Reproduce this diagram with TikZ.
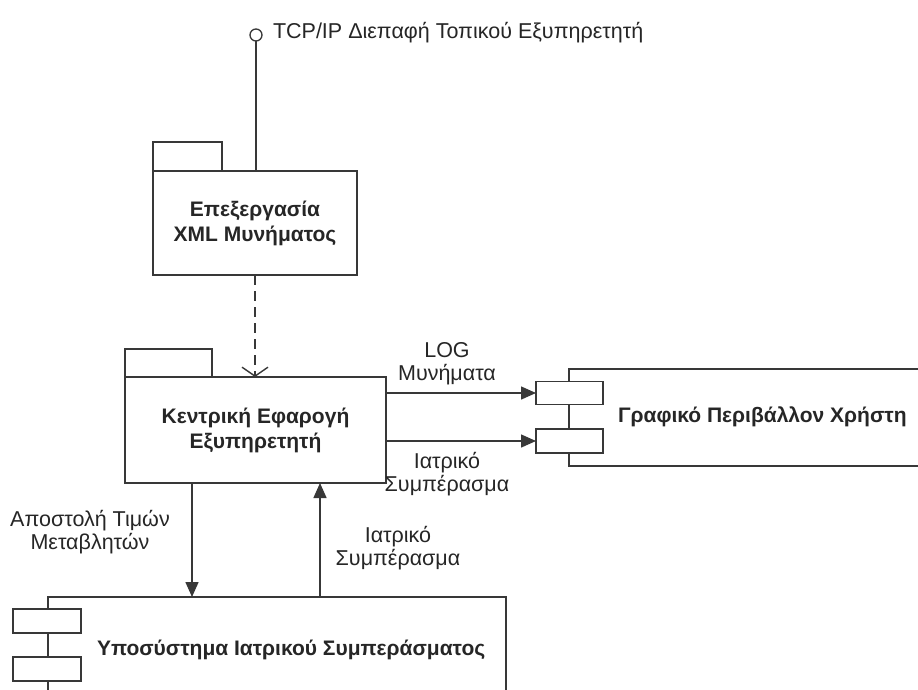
\documentclass[tikz,border=0pt]{standalone}
\usepackage{fontspec}
\setmainfont{Liberation Sans}
\usetikzlibrary{arrows.meta}
\begin{document}
\begin{tikzpicture}[x=1pt,y=-1pt,
  line width=1.5pt, draw=black!78,
  every node/.style={inner sep=0pt, outer sep=0pt},
  box/.style={draw, rectangle, anchor=north west},
  lbl/.style={font=\fontsize{21.5}{23}\selectfont, text=black!85, align=center},
  title/.style={font=\fontsize{21}{25}\selectfont\bfseries, text=black!85, align=center},
  flow/.style={-{Triangle[length=15pt,width=13pt]}},
  dep/.style={dashed, dash pattern=on 10pt off 6pt, -{Straight Barb[length=9pt,width=26pt,line width=1.4pt]}}]
\useasboundingbox (0,0) rectangle (918,689);
\clip (0,0) rectangle (918,689);
\fill[white] (0,0) rectangle (918,689);

% interface lollipop
\node[draw, circle, minimum size=12pt, line width=1.3pt] (iface) at (256,35) {};
\node[lbl, anchor=west] (ifacelbl) at (273,33) {TCP/IP Διεπαφή Τοπικού Εξυπηρετητή};

% XML message package
\node[box, minimum width=204pt, minimum height=104pt] (xml) at (153,171) {};
\node[box, minimum width=69pt, minimum height=29pt] (xmltab) at (153,142) {};
\node[title] (xmltxt) at (xml.center) {Επεξεργασία\\XML Μυνήματος};

% central server application package
\node[box, minimum width=261pt, minimum height=106pt] (core) at (125,377) {};
\node[box, minimum width=87pt, minimum height=28pt] (coretab) at (125,349) {};
\node[title] (coretxt) at (core.center) {Κεντρική Εφαρογή\\Εξυπηρετητή};

% GUI component
\node[box, minimum width=380pt, minimum height=97pt] (gui) at (569,369) {};
\node[draw, fill=white, minimum width=67pt, minimum height=23pt] (guiA) at (569.5,393) {};
\node[draw, fill=white, minimum width=67pt, minimum height=24pt] (guiB) at (569.5,441) {};
\node[title, anchor=west] (guitxt) at (618,417) {Γραφικό Περιβάλλον Χρήστη};

% medical inference subsystem component
\node[box, minimum width=458pt, minimum height=140pt] (sub) at (48,597) {};
\node[draw, fill=white, minimum width=68pt, minimum height=24pt] (subA) at (47,621) {};
\node[draw, fill=white, minimum width=68pt, minimum height=24pt] (subB) at (47,669) {};
\node[title, anchor=west] (subtxt) at (97,650) {Υποσύστημα Ιατρικού Συμπεράσματος};

% connectors
\draw (iface.south) -- (iface.south |- xml.north);
\draw[dep] (xml.south) -- (xml.south |- core.north);
\draw[flow] (core.east |- guiA.west) -- (guiA.west);
\draw[flow] (core.east |- guiB.west) -- (guiB.west);
\coordinate (downx) at (192,0);
\coordinate (upx) at (320,0);
\draw[flow] (core.south -| downx) -- (sub.north -| downx);
\draw[flow] (sub.north -| upx) -- (core.south -| upx);

% connector labels
\node[lbl] (l1) at (447,364) {LOG\\Μυνήματα};
\node[lbl] (l2) at (447,474) {Ιατρικό\\Συμπέρασμα};
\node[lbl] (l3) at (90,532) {Αποστολή Τιμών\\Μεταβλητών};
\node[lbl] (l4) at (398,548) {Ιατρικό\\Συμπέρασμα};
\end{tikzpicture}
\end{document}
